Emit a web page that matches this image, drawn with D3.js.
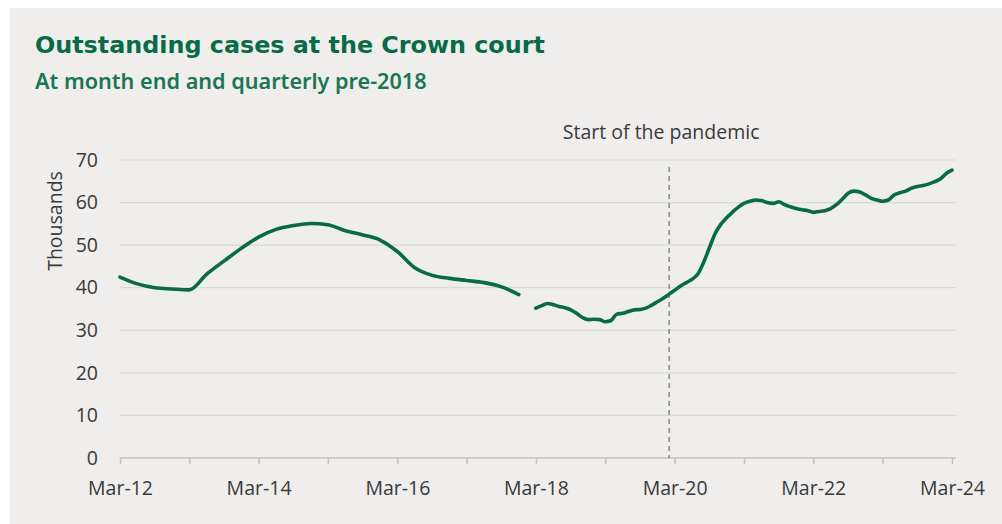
<!DOCTYPE html>
<html><head><meta charset="utf-8">
<script src="https://cdn.jsdelivr.net/npm/d3@7"></script>
<style>
html,body{margin:0;padding:0;background:#fff;}
svg{display:block;}
</style></head>
<body>
<svg id="chart" width="1002" height="524"></svg>
<script>
const title = "Outstanding cases at the Crown court";
const subtitle = "At month end and quarterly pre-2018";
const yLabel = "Thousands";
const annotation = "Start of the pandemic";
const pandemicDate = "2020-02";
const yTicks = [0, 10, 20, 30, 40, 50, 60, 70];
const xTickLabels = ["Mar-12", "Mar-14", "Mar-16", "Mar-18", "Mar-20", "Mar-22", "Mar-24"];

// Quarterly, Mar-12 to Dec-17 (thousands)
const quarterlyStart = "2012-03";
const quarterlyValues = [42.5, 40.9, 40.0, 39.7, 39.5, 43.2, 46.3, 49.3, 51.9, 53.7, 54.6, 55.1,
  54.8, 53.4, 52.4, 51.2, 48.5, 44.7, 42.9, 42.2, 41.7, 41.2, 40.2, 38.4];

// Monthly, Mar-18 to Mar-24 (thousands)
const monthlyStart = "2018-03";
const monthlyValues = [35.2, 35.8, 36.3, 36.0, 35.6, 35.3, 34.8, 34.0, 33.0, 32.5, 32.6, 32.5,
  32.0, 32.3, 33.8, 34.0, 34.4, 34.8, 34.9, 35.2, 35.9, 36.7, 37.5, 38.5,
  39.4, 40.4, 41.2, 42.0, 43.2, 46.0, 49.5, 52.8, 55.0, 56.5, 57.8, 59.0,
  59.8, 60.3, 60.6, 60.5, 60.0, 59.8, 60.2, 59.5, 59.0, 58.6, 58.3, 58.1,
  57.7, 57.9, 58.1, 58.6, 59.5, 60.8, 62.2, 62.7, 62.5, 61.8, 61.0, 60.6,
  60.3, 60.6, 61.8, 62.3, 62.7, 63.4, 63.8, 64.0, 64.4, 64.9, 65.6, 66.9, 67.6];

const parse = d3.timeParse("%Y-%m");
const fmt = d3.timeFormat("%b-%y");
function series(start, step, values) {
  const s = parse(start);
  return values.map((v, i) => ({date: d3.timeMonth.offset(s, i * step), value: v}));
}
const quarterly = series(quarterlyStart, 3, quarterlyValues);
const monthly = series(monthlyStart, 1, monthlyValues);

const svg = d3.select("#chart");
const green = "#086b48";
const axisFont = "'Open Sans', sans-serif";
const axisSize = 19.5;
const textGrey = "#3a3a3a";

function fitWidth(sel, target) {
  const w = sel.node().getComputedTextLength();
  const fs = parseFloat(sel.attr("font-size"));
  sel.attr("font-size", fs * target / w);
}

svg.append("rect").attr("x", 10).attr("y", 8).attr("width", 992).attr("height", 516).attr("fill", "#efeeec");

const t = svg.append("text").attr("x", 35).attr("y", 53).text(title)
  .attr("fill", green).attr("font-family", "'DejaVu Sans', sans-serif").attr("font-weight", 700).attr("font-size", 22);
fitWidth(t, 510);
const st = svg.append("text").attr("x", 35).attr("y", 89).text(subtitle)
  .attr("fill", "#1a7654").attr("font-family", "'Noto Sans', 'DejaVu Sans', sans-serif").attr("font-weight", 600).attr("font-size", 17);
fitWidth(st, 392);

const x = d3.scaleTime().domain([parse("2012-03"), parse("2024-03")]).range([120, 952]);
const y = d3.scaleLinear().domain([0, 70]).range([458, 160]);
const gridRight = 956;

// gridlines
svg.append("g").selectAll("line").data(yTicks.filter(d => d > 0)).join("line")
  .attr("x1", 120).attr("x2", gridRight).attr("y1", d => y(d)).attr("y2", d => y(d))
  .attr("stroke", "#dad9d7").attr("stroke-width", 1.2);

// y axis labels
const yAxis = d3.axisLeft(y).tickValues(yTicks).tickSize(0).tickPadding(22);
const gy = svg.append("g").attr("transform", "translate(120,0)").call(yAxis);
gy.select(".domain").remove();
gy.selectAll("text").attr("font-family", axisFont).attr("font-size", axisSize).attr("fill", textGrey);

svg.append("text").attr("transform", "translate(62,221) rotate(-90)").attr("text-anchor", "middle")
  .text(yLabel).attr("font-family", axisFont).attr("font-size", axisSize).attr("fill", textGrey);

// x axis
const years = d3.range(0, 13).map(i => d3.timeYear.offset(parse("2012-03"), i));
const xAxis = d3.axisBottom(x).tickValues(years).tickSize(6).tickPadding(10)
  .tickFormat(d => { const l = fmt(d); return xTickLabels.includes(l) ? l : ""; });
const gx = svg.append("g").attr("transform", "translate(0,458)").call(xAxis);
gx.select(".domain").attr("d", `M120,0H${gridRight}`).attr("stroke", "#c4c3c1").attr("stroke-width", 1.5);
gx.selectAll(".tick line").attr("stroke", "#c4c3c1").attr("stroke-width", 1.5);
gx.selectAll("text").attr("font-family", axisFont).attr("font-size", axisSize).attr("fill", textGrey).attr("dy", "1.1em");

// pandemic marker
const px = x(parse(pandemicDate));
svg.append("line").attr("x1", px).attr("x2", px).attr("y1", 167).attr("y2", 458)
  .attr("stroke", "#888").attr("stroke-width", 1.5).attr("stroke-dasharray", "5,4");
svg.append("text").attr("x", px - 8).attr("y", 139).attr("text-anchor", "middle").text(annotation)
  .attr("font-family", axisFont).attr("font-size", axisSize).attr("fill", textGrey);

const line = d3.line().x(d => x(d.date)).y(d => y(d.value)).curve(d3.curveMonotoneX);
[quarterly, monthly].forEach(s => {
  svg.append("path").datum(s).attr("d", line).attr("fill", "none")
    .attr("stroke", green).attr("stroke-width", 3.6).attr("stroke-linejoin", "round").attr("stroke-linecap", "round");
});
</script>
</body></html>
